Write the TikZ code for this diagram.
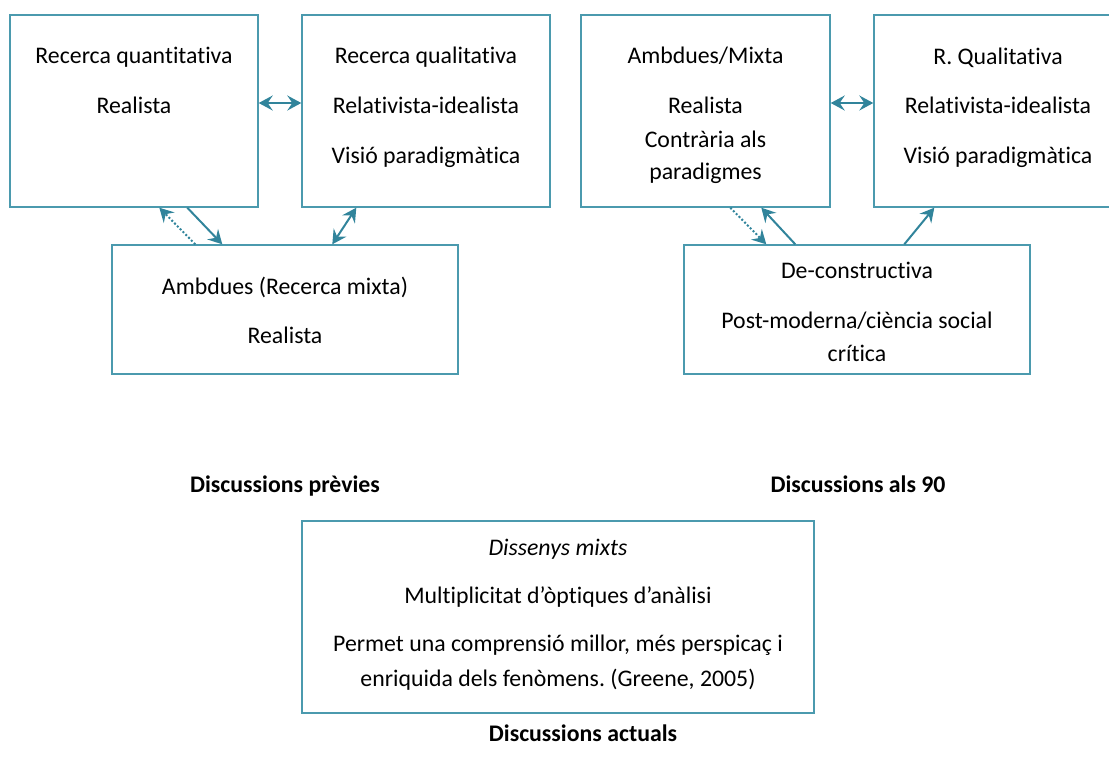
\documentclass[tikz,border=0pt]{standalone}
\usepackage{fontspec}
\setmainfont{Carlito}[RawFeature={-liga;-clig;-dlig;-calt;-rlig}]
\frenchspacing
\usetikzlibrary{arrows.meta}
\definecolor{boxline}{RGB}{75,154,174}
\definecolor{arrowc}{RGB}{49,132,155}
\begin{document}
\begin{tikzpicture}[x=1pt,y=-1pt,
  box/.style={draw=boxline,line width=1.4pt,rectangle,inner sep=0pt},
  txt/.style={anchor=base,inner sep=0pt,font=\fontsize{23.8}{31}\selectfont},
  ttl/.style={anchor=base,inner sep=0pt,font=\fontsize{23.8}{31}\selectfont\bfseries},
  conn/.style={draw=arrowc,line width=2pt},
  tip/.style={-{Stealth[length=14pt,width=15pt,inset=5pt]}},
  tips/.style={{Stealth[length=14pt,width=15pt,inset=5pt]}-{Stealth[length=14pt,width=15pt,inset=5pt]}},
  dots/.style={line width=2pt,dash pattern=on 2pt off 2pt}]
\useasboundingbox (0,0) rectangle (1109,769);
\clip (0,0) rectangle (1109,769);

% Previous discussions
\node[box,minimum width=248pt,minimum height=192pt] (qa) at (134,111) {};
\node[box,minimum width=248pt,minimum height=192pt] (ql) at (426,111) {};
\node[box,minimum width=346pt,minimum height=129pt] (mx) at (285,309.5) {};
\node[txt] (qa1) at (134,63) {Recerca quantitativa};
\node[txt] (qa2) at (134,113) {Realista};
\node[txt] (ql1) at (426,63) {Recerca qualitativa};
\node[txt] (ql2) at (426,113) {Relativista-idealista};
\node[txt] (ql3) at (426,163) {Visió paradigmàtica};
\node[txt] (mx1) at (285,294) {Ambdues (Recerca mixta)};
\node[txt] (mx2) at (285,343) {Realista};
\node[ttl] (t1) at (285,492) {Discussions prèvies};

% Discussions of the 90s
\node[box,minimum width=249pt,minimum height=192pt] (am) at (705.5,111) {};
\node[box,minimum width=248pt,minimum height=192pt] (rq) at (998,111) {};
\node[box,minimum width=346pt,minimum height=129pt] (dc) at (857,309.5) {};
\node[txt] (am1) at (705.5,63) {Ambdues/Mixta};
\node[txt] (am2) at (705.5,113) {Realista};
\node[txt] (am3) at (705.5,147) {Contrària als};
\node[txt] (am4) at (705.5,179) {paradigmes};
\node[txt] (rq1) at (998,64) {R. Qualitativa};
\node[txt] (rq2) at (998,113) {Relativista-idealista};
\node[txt] (rq3) at (998,163) {Visió paradigmàtica};
\node[txt] (dc1) at (857,278) {De-constructiva};
\node[txt] (dc2) at (857,328) {Post-moderna/ciència social};
\node[txt] (dc3) at (857,361) {crítica};
\node[ttl] (t2) at (858,492) {Discussions als 90};

% Current discussions
\node[box,minimum width=512pt,minimum height=192pt] (ds) at (558,617) {};
\node[txt] (ds1) at (558,555) {\itshape Dissenys mixts};
\node[txt] (ds2) at (558,603) {Multiplicitat d’òptiques d’anàlisi};
\node[txt] (ds3) at (558,651) {Permet una comprensió millor, més perspicaç i};
\node[txt] (ds4) at (558,686) {enriquida dels fenòmens. (Greene, 2005)};
\node[ttl] (t3) at (583,741) {Discussions actuals};

% Connectors, left group
\draw[conn,tips] ([yshift=8pt]qa.east) -- ([yshift=8pt]ql.west);
\draw[conn,tip,dots] ([xshift=84pt]mx.north west) -- ([xshift=150pt]qa.south west);
\draw[conn,tip] ([xshift=178pt]qa.south west) -- ([xshift=111pt]mx.north west);
\draw[conn,tips] ([xshift=55pt]ql.south west) -- ([xshift=221pt]mx.north west);

% Connectors, right group
\draw[conn,tips] ([yshift=8pt]am.east) -- ([yshift=8pt]rq.west);
\draw[conn,tip,dots] ([xshift=150pt]am.south west) -- ([xshift=83pt]dc.north west);
\draw[conn,tip] ([xshift=112pt]dc.north west) -- ([xshift=181pt]am.south west);
\draw[conn,tip] ([xshift=221pt]dc.north west) -- ([xshift=61pt]rq.south west);
\end{tikzpicture}
\end{document}
